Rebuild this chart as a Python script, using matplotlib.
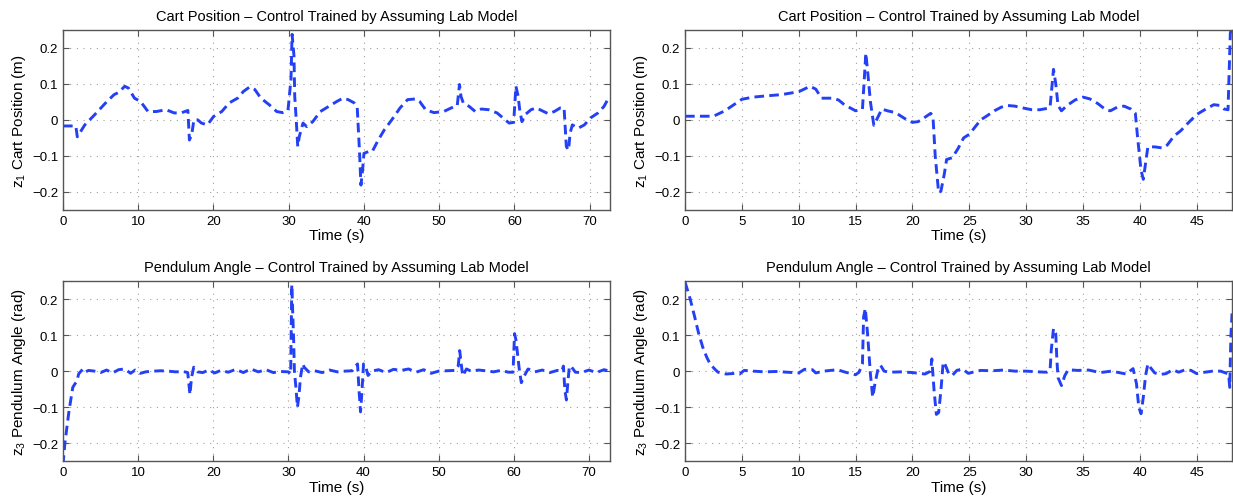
import matplotlib
matplotlib.use("Agg")
import matplotlib.pyplot as plt

plt.rcParams['font.family'] = ['Liberation Sans', 'DejaVu Sans']
plt.rcParams['mathtext.default'] = 'regular'

# run 1 (long run, ~72.7 s)
t_cart_a = [0.0, 1.7, 1.9, 2.9, 4.2, 5.8, 6.8, 7.4, 8.2, 8.7, 9.5, 10.3, 11.3, 12.4, 13.7,
            14.8, 15.8, 16.6, 16.8, 17.1, 17.4, 17.9, 18.4, 19.2, 20.0, 21.1, 22.1, 23.2,
            24.0, 24.8, 25.5, 26.3, 27.4, 28.4, 29.2, 29.9, 30.3, 30.45, 30.7, 30.8, 31.0,
            31.2, 31.4, 31.9, 32.4, 33.2, 34.2, 35.3, 36.4, 37.2, 37.9, 38.7, 39.1, 39.4,
            39.6, 39.8, 40.0, 40.6, 41.1, 41.9, 42.7, 43.7, 44.8, 45.8, 46.9, 47.4, 48.2,
            49.3, 50.6, 51.6, 52.4, 52.7, 52.9, 53.2, 54.0, 54.8, 55.6, 56.6, 57.7, 58.5,
            59.3, 59.9, 60.2, 60.5, 60.7, 61.0, 61.4, 62.2, 62.9, 63.7, 64.5, 65.3, 66.1,
            66.6, 66.9, 67.2, 67.4, 67.7, 68.5, 69.3, 70.1, 71.1, 71.9, 72.4]
z1_a = [-0.017, -0.017, -0.047, -0.014, 0.014, 0.050, 0.070, 0.076, 0.093, 0.088, 0.060,
        0.051, 0.023, 0.023, 0.028, 0.019, 0.020, 0.026, -0.056, -0.042, 0.000, 0.000,
        -0.009, -0.014, 0.009, 0.023, 0.047, 0.060, 0.079, 0.091, 0.084, 0.060, 0.042,
        0.023, 0.020, 0.026, 0.112, 0.237, 0.177, 0.065, 0.000, -0.074, -0.047, -0.009,
        -0.019, -0.005, 0.023, 0.037, 0.051, 0.060, 0.056, 0.047, 0.037, -0.084, -0.181,
        -0.144, -0.093, -0.088, -0.088, -0.056, -0.028, 0.000, 0.033, 0.056, 0.058, 0.051,
        0.028, 0.020, 0.023, 0.033, 0.039, 0.098, 0.065, 0.047, 0.037, 0.023, 0.030, 0.028,
        0.019, 0.005, -0.009, -0.007, 0.093, 0.065, 0.028, -0.005, 0.014, 0.028, 0.033,
        0.025, 0.017, 0.023, 0.033, 0.033, -0.074, -0.084, -0.037, -0.014, -0.023, -0.014,
        0.005, 0.019, 0.037, 0.056]

t_ang_a = [0.0, 0.25, 0.8, 1.3, 1.6, 1.8, 2.1, 2.4, 2.6, 2.9, 3.4, 4.2, 5.0, 5.8, 6.6, 7.4,
           8.2, 9.0, 9.6, 10.3, 11.0, 12.0, 13.0, 14.0, 15.0, 16.0, 16.6, 16.9, 17.1, 17.4,
           17.9, 18.6, 19.4, 20.2, 21.0, 22.0, 23.0, 24.0, 25.0, 26.0, 27.0, 28.0, 29.0,
           30.0, 30.3, 30.45, 30.7, 30.8, 31.0, 31.2, 31.4, 31.6, 31.9, 32.1, 32.7, 33.5,
           34.5, 35.5, 36.5, 37.5, 38.5, 39.0, 39.2, 39.4, 39.6, 39.8, 40.0, 40.3, 40.6,
           41.1, 42.0, 43.0, 44.0, 45.0, 46.0, 47.0, 48.0, 49.0, 50.0, 51.0, 52.2, 52.6,
           52.8, 53.0, 53.2, 53.7, 54.3, 55.3, 56.3, 57.3, 58.3, 59.3, 59.9, 60.1, 60.3,
           60.7, 61.0, 61.4, 61.9, 62.8, 63.8, 64.8, 65.8, 66.4, 66.6, 66.8, 67.0, 67.2,
           67.4, 67.7, 68.2, 69.0, 70.0, 71.0, 72.0, 72.8]
z3_a = [-0.26, -0.20, -0.11, -0.045, -0.035, -0.030, -0.007, 0.000, 0.005, -0.003, 0.002,
        0.000, -0.004, 0.003, -0.005, 0.004, 0.006, -0.006, 0.003, -0.006, -0.002, 0.000,
        0.001, 0.000, -0.002, -0.001, -0.004, -0.065, -0.018, 0.011, -0.002, -0.004, 0.003,
        -0.005, 0.002, -0.003, 0.005, -0.004, 0.006, -0.002, 0.004, -0.004, -0.001,
        -0.002, -0.008, 0.240, 0.085, 0.000, -0.045, -0.100, -0.070, -0.018, 0.020, 0.011,
        -0.002, 0.001, -0.004, 0.003, -0.002, 0.000, 0.001, 0.015, 0.020, -0.053, -0.113,
        -0.053, 0.020, 0.011, -0.012, 0.000, 0.004, -0.004, 0.005, 0.002, 0.006, -0.003,
        0.004, -0.006, 0.000, 0.001, 0.002, 0.014, 0.057, 0.020, -0.013, 0.006, 0.000,
        0.003, 0.001, -0.002, 0.002, -0.003, -0.003, 0.104, 0.085, 0.010, -0.032, -0.013,
        0.006, -0.002, 0.003, -0.004, 0.002, 0.000, 0.014, -0.053, -0.080, -0.030, 0.014,
        0.011, -0.003, -0.004, 0.003, -0.004, 0.004, 0.000]

# run 2 (shorter run, ~48 s)
t_cart_b = [0.0, 2.5, 3.5, 5.0, 6.0, 7.0, 8.5, 10.0, 11.0, 11.5, 12.0, 13.0, 13.5, 14.0,
            15.0, 15.6, 15.9, 16.1, 16.3, 16.6, 17.0, 17.3, 17.8, 18.5, 19.0, 19.5, 20.0,
            20.5, 21.0, 21.6, 21.8, 22.0, 22.3, 22.5, 22.8, 23.0, 23.5, 24.0, 24.5, 25.0,
            25.5, 26.0, 26.5, 27.2, 27.8, 28.3, 29.0, 29.7, 30.5, 31.2, 31.9, 32.1, 32.4,
            32.6, 32.8, 33.1, 33.6, 34.3, 35.0, 35.6, 36.3, 37.0, 37.4, 38.0, 38.6, 39.2,
            39.6, 39.8, 40.1, 40.3, 40.5, 40.7, 41.3, 42.0, 42.4, 43.0, 43.6, 44.2, 45.0,
            45.8, 46.5, 47.0, 47.4, 47.75, 47.95, 48.1]
z1_b = [0.010, 0.010, 0.025, 0.057, 0.063, 0.066, 0.070, 0.078, 0.093, 0.085, 0.060, 0.060,
        0.055, 0.042, 0.025, 0.030, 0.185, 0.120, 0.050, -0.015, 0.010, 0.030, 0.025, 0.020,
        0.010, 0.000, -0.007, -0.005, 0.005, 0.018, 0.010, -0.100, -0.202, -0.198, -0.150,
        -0.110, -0.105, -0.080, -0.050, -0.040, -0.020, 0.000, 0.010, 0.025, 0.035, 0.040,
        0.038, 0.033, 0.028, 0.028, 0.032, 0.035, 0.140, 0.100, 0.040, 0.025, 0.040, 0.055,
        0.063, 0.058, 0.045, 0.028, 0.025, 0.035, 0.038, 0.030, 0.018, -0.050, -0.140,
        -0.165, -0.120, -0.075, -0.075, -0.078, -0.070, -0.045, -0.030, -0.010, 0.015,
        0.030, 0.042, 0.040, 0.030, 0.028, 0.240, 0.260]

t_ang_b = [0.0, 0.45, 0.85, 1.2, 1.55, 1.9, 2.2, 2.6, 2.9, 3.6, 4.5, 4.8, 5.2, 6.0, 7.0,
           8.0, 9.0, 10.0, 10.5, 11.2, 11.5, 12.2, 13.4, 14.1, 15.0, 15.3, 15.6, 15.7,
           15.85, 16.05, 16.3, 16.5, 16.7, 17.0, 17.2, 17.5, 18.0, 19.0, 20.0, 21.1, 21.6,
           21.7, 21.9, 22.1, 22.3, 22.5, 22.7, 22.9, 23.2, 23.5, 23.9, 24.4, 24.9, 26.0,
           27.0, 28.0, 29.0, 30.0, 31.0, 31.8, 32.1, 32.2, 32.4, 32.6, 32.7, 32.8, 33.1,
           33.4, 33.7, 34.5, 35.5, 36.5, 37.5, 38.8, 39.4, 39.7, 39.9, 40.1, 40.3, 40.5,
           40.7, 40.9, 41.3, 41.8, 42.3, 42.9, 43.4, 44.0, 44.5, 45.0, 45.7, 46.4, 47.1,
           47.8, 47.9, 48.0, 48.1]
z3_b = [0.247, 0.200, 0.150, 0.104, 0.067, 0.039, 0.020, 0.006, -0.003, -0.008, -0.006,
        -0.008, 0.002, 0.000, -0.002, -0.001, -0.003, -0.005, 0.005, 0.004, -0.005, 0.000,
        0.004, -0.003, -0.010, -0.003, 0.020, 0.150, 0.174, 0.104, -0.008, -0.072, -0.035,
        0.011, 0.016, 0.000, -0.003, -0.002, -0.004, -0.008, 0.000, 0.034, -0.054, -0.120,
        -0.115, -0.054, 0.025, 0.016, -0.008, -0.012, 0.002, 0.006, -0.006, 0.002, 0.001,
        0.003, 0.000, 0.000, -0.002, -0.003, 0.002, 0.057, 0.118, 0.104, 0.030, -0.018,
        -0.040, -0.012, 0.004, 0.002, 0.003, -0.004, 0.000, -0.008, 0.007, -0.035, -0.100,
        -0.118, -0.072, -0.012, 0.020, 0.011, -0.005, -0.009, -0.007, 0.004, -0.003, 0.004,
        0.002, -0.007, -0.003, 0.000, 0.000, -0.008, -0.045, 0.095, 0.160]

line_color = '#2440f5'
cart_title = 'Cart Position \u2013 Control Trained by Assuming Lab Model'
ang_title = 'Pendulum Angle \u2013 Control Trained by Assuming Lab Model'

fig = plt.figure(figsize=(12.33, 5.02), dpi=100)

panels = [
    ([0.0511, 0.5797, 0.4436, 0.3592], t_cart_a, z1_a, 72.7, 10, cart_title, 'z$_1$ Cart Position (m)'),
    ([0.5556, 0.5797, 0.4436, 0.3592], t_cart_b, z1_b, 48.1, 5, cart_title, 'z$_1$ Cart Position (m)'),
    ([0.0511, 0.0791, 0.4436, 0.3592], t_ang_a, z3_a, 72.8, 10, ang_title, 'z$_3$ Pendulum Angle (rad)'),
    ([0.5556, 0.0791, 0.4436, 0.3592], t_ang_b, z3_b, 48.1, 5, ang_title, 'z$_3$ Pendulum Angle (rad)'),
]

for rect, t, z, tmax, step, title, ylabel in panels:
    ax = fig.add_axes(rect)
    ax.plot(t, z, linestyle=(0, (3.3, 1.8)), color=line_color, linewidth=2.1)
    ax.set_xlim(0, tmax)
    ax.set_ylim(-0.25, 0.25)
    ax.set_xticks(range(0, int(tmax) + 1, step))
    ax.set_yticks([-0.2, -0.1, 0, 0.1, 0.2])
    ax.set_yticklabels(['\u22120.2', '\u22120.1', '0', '0.1', '0.2'])
    ax.grid(True, linestyle=(0, (1, 5)), color='#a0a0a0', linewidth=0.8)
    ax.tick_params(direction='in', length=4, width=0.8, labelsize=9.5, colors='#555555',
                   labelcolor='black', top=True, right=True)
    for s in ax.spines.values():
        s.set_color('#555555')
        s.set_linewidth(1.0)
    ax.set_title(title, fontsize=10.5, pad=7)
    ax.set_xlabel('Time (s)', fontsize=11, labelpad=1)
    ax.set_ylabel(ylabel, fontsize=11, labelpad=3)

fig.savefig('out.png', dpi=100)
